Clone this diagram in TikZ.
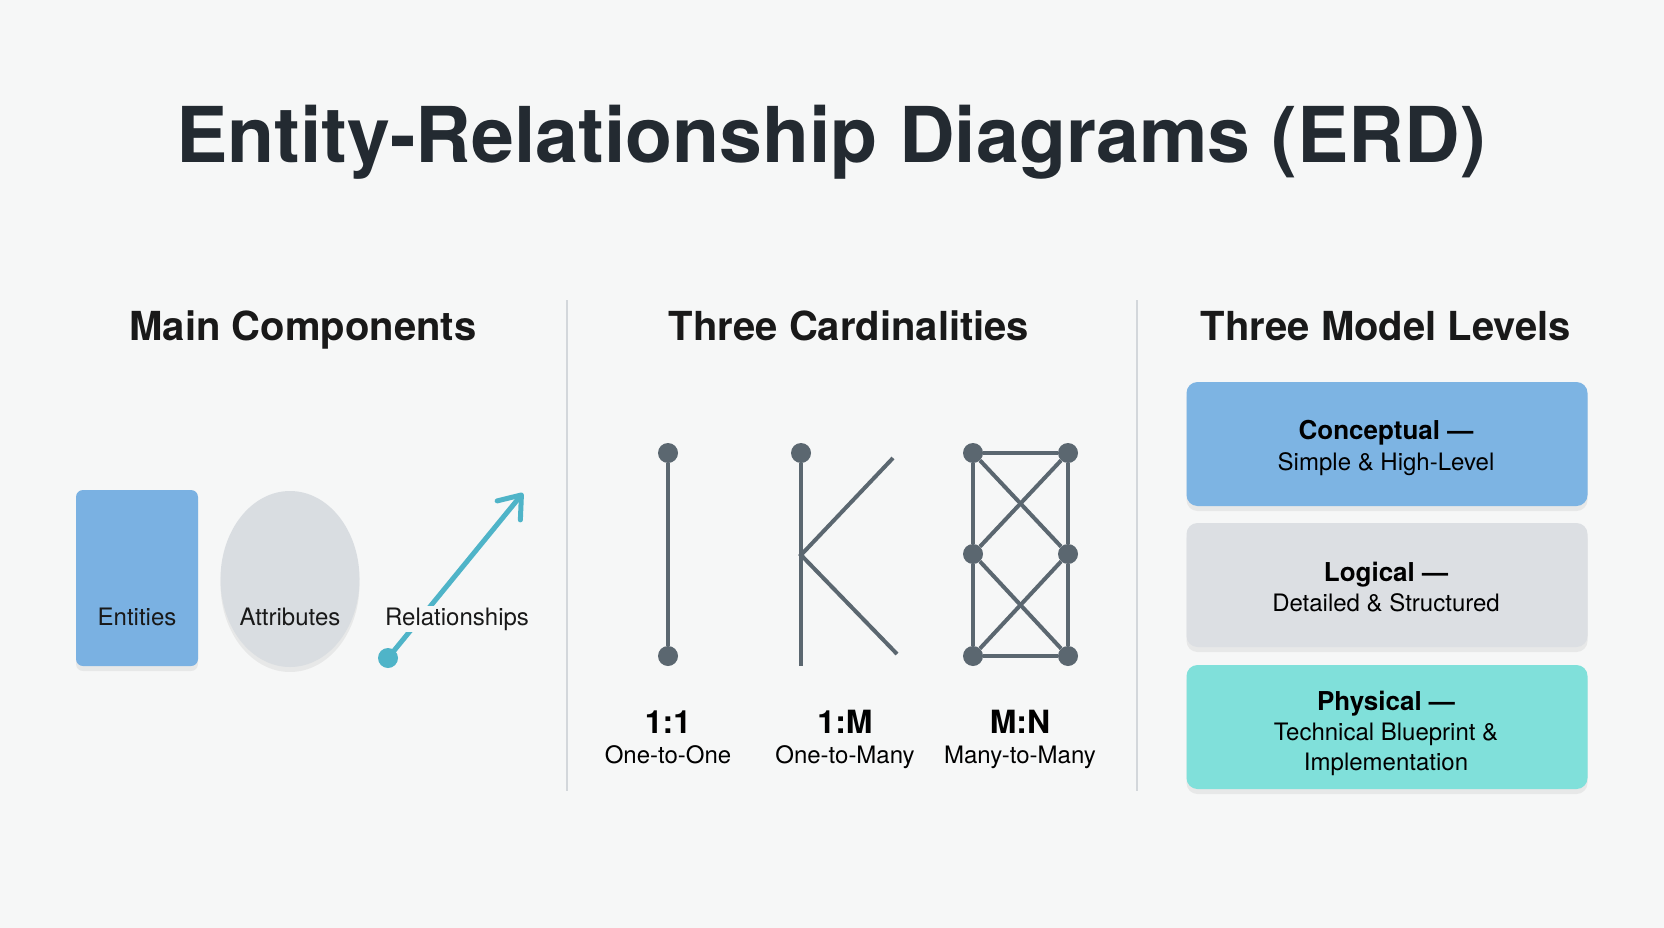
\documentclass[tikz,border=0pt]{standalone}
\usepackage{fontspec}
\setmainfont{TeX Gyre Heros}
\usetikzlibrary{shapes.geometric, arrows.meta, shadows}

\definecolor{bgcol}{HTML}{F6F7F7}
\definecolor{titlecol}{HTML}{232A31}
\definecolor{entblue}{HTML}{7AB1E2}
\definecolor{attgray}{HTML}{D9DDE1}
\definecolor{relteal}{HTML}{4FB4C8}
\definecolor{slate}{HTML}{5B6770}
\definecolor{lvlblue}{HTML}{7DB4E3}
\definecolor{lvlgray}{HTML}{DCDFE3}
\definecolor{lvlteal}{HTML}{80E0DA}
\definecolor{divcol}{HTML}{D3D7DB}

\tikzset{
  heading/.style={anchor=base, font=\fontsize{40}{48}\selectfont\bfseries, text=black!90},
  complabel/.style={anchor=base, font=\fontsize{24}{28}\selectfont, text=black!90},
  softshadow/.style={drop shadow={shadow xshift=0pt, shadow yshift=-5pt, opacity=0.12}},
  carddot/.style={circle, fill=slate, inner sep=0pt, minimum size=20pt},
  cardline/.style={slate, line width=4pt},
  cardlabel/.style={anchor=base, font=\fontsize{32}{36}\selectfont\bfseries},
  cardsub/.style={anchor=base, font=\fontsize{24}{28}\selectfont},
  level/.style={rounded corners=11pt, minimum width=401pt, minimum height=124pt, inner sep=0pt, softshadow},
  lvltitle/.style={anchor=base, font=\fontsize{26}{30}\selectfont\bfseries},
  lvltext/.style={anchor=base, font=\fontsize{24}{28}\selectfont},
  divider/.style={divcol, line width=1.5pt}
}

\begin{document}
\begin{tikzpicture}[x=1pt, y=-1pt]
  % Canvas
  \useasboundingbox (0,0) rectangle (1664,928);
  \fill[bgcol] (0,0) rectangle (1664,928);

  % Title
  \node[anchor=base, text=titlecol, font=\fontsize{77}{90}\selectfont\bfseries] (title) at (831,163) {Entity-Relationship Diagrams (ERD)};

  % Headings
  \node[heading] (head-comp) at (303,340) {Main Components};
  \node[heading] (head-card) at (849,340) {Three Cardinalities};
  \node[heading] (head-lvl) at (1386,340) {Three Model Levels};

  % Dividers
  \coordinate (div1-top) at (567,300);
  \coordinate (div1-bot) at (567,791);
  \coordinate (div2-top) at (1137,300);
  \coordinate (div2-bot) at (1137,791);
  \draw[divider] (div1-top) -- (div1-bot);
  \draw[divider] (div2-top) -- (div2-bot);

  % Main components
  \node[rectangle, rounded corners=7pt, fill=entblue, minimum width=122pt, minimum height=176pt, softshadow] (entities) at (137,578) {};
  \node[ellipse, fill=attgray, minimum width=139pt, minimum height=176pt, inner sep=0pt, softshadow] (attributes) at (290,579) {};
  \node[complabel] (entities-lbl) at (137,625) {Entities};
  \node[complabel] (attributes-lbl) at (290,625) {Attributes};

  \node[circle, fill=relteal, inner sep=0pt, minimum size=20pt] (rel-dot) at (388,658) {};
  \coordinate (rel-tip) at (523,493);
  \draw[relteal, line width=5pt, line cap=round, -{Straight Barb[length=20pt, width=30pt, round]}] (rel-dot.center) -- (rel-tip);
  \node[complabel, fill=bgcol, inner sep=2pt] (rel-lbl) at (457,625) {Relationships};

  % 1:1
  \node[carddot] (oo-top) at (668,453) {};
  \node[carddot] (oo-bot) at (668,656) {};
  \draw[cardline] (oo-top) -- (oo-bot);

  % 1:M
  \node[carddot] (om-top) at (801,453) {};
  \coordinate (om-bot) at (801,666);
  \coordinate (om-mid) at (801,555);
  \coordinate (om-up) at (893,458);
  \coordinate (om-down) at (897,654);
  \draw[cardline] (om-top) -- (om-bot);
  \draw[cardline] (om-up) -- (om-mid) -- (om-down);

  % M:N
  \foreach \col/\x in {l/973, r/1068}
    \foreach \row/\y in {t/453, m/554, b/656}
      \node[carddot] (mn-\col\row) at (\x,\y) {};
  \draw[cardline] (mn-lt) -- (mn-rt);
  \draw[cardline] (mn-lb) -- (mn-rb);
  \draw[cardline] (mn-lt) -- (mn-lm) -- (mn-lb);
  \draw[cardline] (mn-rt) -- (mn-rm) -- (mn-rb);
  \draw[cardline] (mn-lt) -- (mn-rm);
  \draw[cardline] (mn-rt) -- (mn-lm);
  \draw[cardline] (mn-lm) -- (mn-rb);
  \draw[cardline] (mn-rm) -- (mn-lb);

  % Cardinality labels
  \node[cardlabel] (oo-lbl) at (668,733) {1:1};
  \node[cardsub] (oo-sub) at (668,763) {One-to-One};
  \node[cardlabel] (om-lbl) at (845,733) {1:M};
  \node[cardsub] (om-sub) at (845,763) {One-to-Many};
  \node[cardlabel] (mn-lbl) at (1020,733) {M:N};
  \node[cardsub] (mn-sub) at (1020,763) {Many-to-Many};

  % Model levels
  \node[level, fill=lvlblue] (conceptual) at (1387,444) {};
  \node[level, fill=lvlgray] (logical) at (1387,585) {};
  \node[level, fill=lvlteal] (physical) at (1387,727) {};

  \node[lvltitle] (conceptual-ttl) at (1386,439) {Conceptual —};
  \node[lvltext] (conceptual-txt) at (1386,470) {Simple \& High-Level};
  \node[lvltitle] (logical-ttl) at (1386,581) {Logical —};
  \node[lvltext] (logical-txt) at (1386,611) {Detailed \& Structured};
  \node[lvltitle] (physical-ttl) at (1386,710) {Physical —};
  \node[lvltext] (physical-txt) at (1386,740) {Technical Blueprint \&};
  \node[lvltext] (physical-txt2) at (1386,770) {Implementation};
\end{tikzpicture}
\end{document}
